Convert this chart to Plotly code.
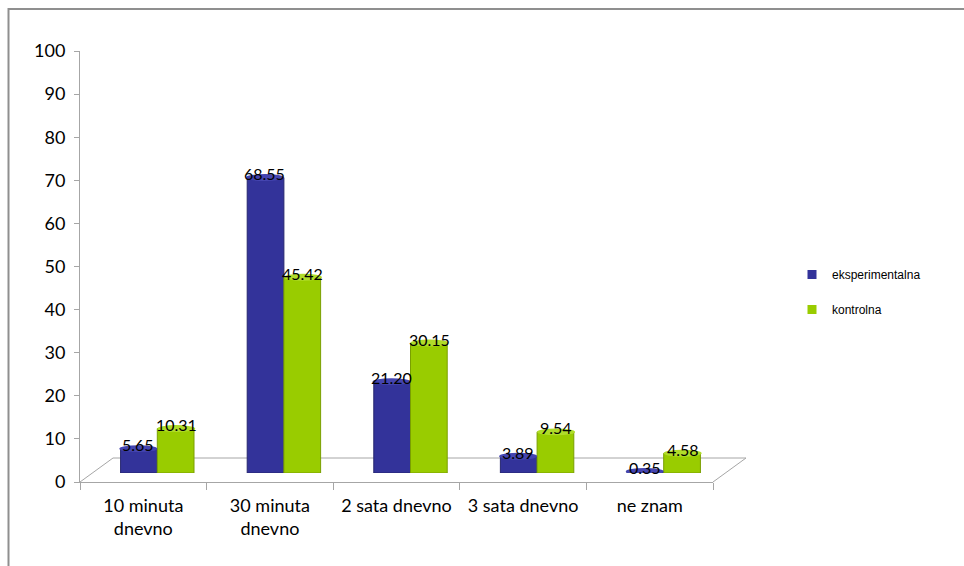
import plotly.graph_objects as go

categories = ["10 minuta<br>dnevno", "30 minuta<br>dnevno", "2 sata dnevno", "3 sata dnevno", "ne znam"]
eksperimentalna = [5.65, 68.55, 21.20, 3.89, 0.35]
kontrolna = [10.31, 45.42, 30.15, 9.54, 4.58]
series_names = ["eksperimentalna", "kontrolna"]
y_ticks = list(range(0, 101, 10))

BLUE = "#33339A"
BLUE_DARK = "#26266f"
BLUE_CAP = "#4545b0"
GREEN = "#99CC00"
GREEN_DARK = "#7a9f00"
GREEN_CAP = "#b0dc2a"

W, H = 964, 566
L, R, T, B = 80, 218, 42, 84
PW, PH = W - L - R, H - T - B
FRONT_W = 633
DX, DY = 14, 9
BACK_DX, BACK_DY = 33, 24
Y_PIX = 431


def px(x):
    return (x - L) / PW


def py(y):
    return (H - B - y) / PH


fig = go.Figure()

# invisible trace to establish category axis on front (floor) axis
fig.add_trace(go.Scatter(x=categories, y=[0] * len(categories), mode="markers",
                         marker=dict(opacity=0), hoverinfo="skip", showlegend=False,
                         xaxis="x", yaxis="y"))

for name, vals, col, dark in [(series_names[0], eksperimentalna, BLUE, BLUE_DARK),
                              (series_names[1], kontrolna, GREEN, GREEN_DARK)]:
    fig.add_trace(go.Bar(x=categories, y=vals, name=name, marker=dict(color=col, line=dict(color=dark, width=1)),
                         xaxis="x2", yaxis="y2", showlegend=False))
    fig.add_trace(go.Scatter(x=[None], y=[None], mode="markers", name=name,
                             marker=dict(symbol="square", size=9, color=col),
                             legendgroup=name, xaxis="x2", yaxis="y2"))

# caps and labels
BW = 0.3
shapes = []
annotations = []
for k, (vals, cap) in enumerate([(eksperimentalna, BLUE_CAP), (kontrolna, GREEN_CAP)]):
    off = -BW / 2 if k == 0 else BW / 2
    for i, v in enumerate(vals):
        c = i + off
        shapes.append(dict(type="circle", xref="x2", yref="y2", x0=c - BW / 2, x1=c + BW / 2,
                           y0=v - 0.8, y1=v + 0.8, fillcolor=cap, line=dict(width=0), layer="above"))
        annotations.append(dict(x=c, y=v, xref="x2", yref="y2", text=f"{v:.2f}", showarrow=False,
                                yshift=4, font=dict(family="Lato", size=16, color="black")))

# floor
floor_col = "#a6a6a6"
fl, fb = 80, 482
fr = fl + FRONT_W
shapes += [
    dict(type="line", xref="paper", yref="paper", x0=px(fl), y0=py(fb), x1=px(fl + BACK_DX), y1=py(fb - BACK_DY),
         line=dict(color=floor_col, width=1), layer="below"),
    dict(type="line", xref="paper", yref="paper", x0=px(fl + BACK_DX), y0=py(fb - BACK_DY), x1=px(fr + BACK_DX),
         y1=py(fb - BACK_DY), line=dict(color=floor_col, width=1), layer="below"),
    dict(type="line", xref="paper", yref="paper", x0=px(fr), y0=py(fb), x1=px(fr + BACK_DX), y1=py(fb - BACK_DY),
         line=dict(color=floor_col, width=1), layer="below"),
]
# outer border (chart area frame)
shapes.append(dict(type="path", xref="paper", yref="paper",
                   path=f"M {px(8.5)},{py(700)} L {px(8.5)},{py(9)} L {px(1200)},{py(9)}",
                   line=dict(color="#8f8f8f", width=2)))

fig.update_layout(
    width=W, height=H,
    margin=dict(l=L, r=R, t=T, b=B),
    paper_bgcolor="white", plot_bgcolor="rgba(0,0,0,0)",
    barmode="group", bargap=0.42, bargroupgap=0,
    font=dict(family="Lato", size=18, color="black"),
    shapes=shapes, annotations=annotations,
    xaxis=dict(type="category", domain=[0, FRONT_W / PW], range=[-0.5, 4.5], showline=True,
               linecolor="#a6a6a6", linewidth=1, ticks="outside", tickson="boundaries", ticklen=7,
               tickcolor="#a6a6a6", showgrid=False, zeroline=False, anchor="y",
               ticklabelstandoff=7, tickfont=dict(family="Lato", size=18)),
    yaxis=dict(domain=[0, Y_PIX / PH], range=[0, 100], tickvals=y_ticks, showline=True, linecolor="#a6a6a6",
               ticks="outside", ticklen=5, tickcolor="#a6a6a6", showgrid=False, zeroline=False,
               ticklabelstandoff=5, anchor="x", tickfont=dict(family="Lato", size=18)),
    xaxis2=dict(type="category", domain=[DX / PW, (DX + FRONT_W) / PW], range=[-0.5, 4.5], visible=False,
                anchor="y2"),
    yaxis2=dict(domain=[DY / PH, (DY + Y_PIX) / PH], range=[0, 100], visible=False, anchor="x2"),
    legend=dict(x=px(792), y=py(260), xanchor="left", yanchor="top", tracegroupgap=16,
                font=dict(family="Liberation Sans", size=12, color="black"), bgcolor="rgba(0,0,0,0)"),
    showlegend=True,
)

fig.write_html("out.html")
